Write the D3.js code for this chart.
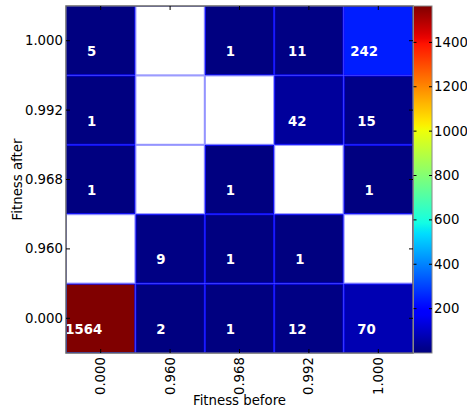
<!DOCTYPE html>
<html><head><meta charset="utf-8">
<script src="https://cdn.jsdelivr.net/npm/d3@7"></script>
<style>body{margin:0;background:#fff}svg{display:block;font-family:"DejaVu Sans",sans-serif}</style>
</head><body><svg id="c" width="467" height="409"></svg>
<script>
const xLabels = ["0.000","0.960","0.968","0.992","1.000"];
const yLabels = ["1.000","0.992","0.968","0.960","0.000"]; // top to bottom
const row_1000 = [5, null, 1, 11, 242];
const row_0992 = [1, null, null, 42, 15];
const row_0968 = [1, null, 1, null, 1];
const row_0960 = [null, 9, 1, 1, null];
const row_0000 = [1564, 2, 1, 12, 70];
const rows = [row_1000, row_0992, row_0968, row_0960, row_0000];
const cbTicks = [200,400,600,800,1000,1200,1400];
const vmin = 1, vmax = 1564;

// matplotlib jet
function interp(seg, t){
  for(let i=1;i<seg.length;i++){ if(t<=seg[i][0]){const a=seg[i-1],b=seg[i];return a[1]+(b[1]-a[1])*(t-a[0])/(b[0]-a[0]);} }
  return seg[seg.length-1][1];
}
const R=[[0,0],[0.35,0],[0.66,1],[0.89,1],[1,0.5]];
const G=[[0,0],[0.125,0],[0.375,1],[0.64,1],[0.91,0],[1,0]];
const B=[[0,0.5],[0.11,1],[0.34,1],[0.65,0],[1,0]];
function jet(t){t=Math.max(0,Math.min(1,t));t=Math.floor(t*255.999)/255;
  return d3.rgb(255*interp(R,t),255*interp(G,t),255*interp(B,t)).toString();}
const norm = d3.scaleLinear().domain([vmin,vmax]).clamp(true);

const svg = d3.select("#c");
const L=66, T=6, W=347, H=347;
const x = d3.scaleBand().domain(xLabels).range([L,L+W]);
const y = d3.scaleBand().domain(yLabels).range([T,T+H]);

const cells=[];
rows.forEach((r,i)=>r.forEach((v,j)=>cells.push({xl:xLabels[j],yl:yLabels[i],v})));
const g = svg.append("g");
g.selectAll("rect.c").data(cells).join("rect")
 .attr("x",d=>x(d.xl)+0.5).attr("y",d=>y(d.yl)+0.5)
 .attr("width",x.bandwidth()-1).attr("height",y.bandwidth()-1)
 .attr("fill",d=>d.v==null?"#fff":jet(norm(d.v)))
 .attr("stroke",d=>d.v==null?"rgba(0,0,255,0.45)":"#0000ff").attr("stroke-width",1);

const txt = g.selectAll("text.v").data(cells.filter(d=>d.v!=null)).join("text")
 .attr("fill","#fff").attr("font-weight","bold").attr("font-size","13.3px")
 .attr("y",d=>y(d.yl)+y.bandwidth()/2+15.5)
 .text(d=>d.v);
txt.each(function(d){const w=this.getComputedTextLength();
  const cx=x(d.xl)+x.bandwidth()/2-6.5-0.28*w; d3.select(this).attr("x",cx-w/2);});

// frame
svg.append("rect").attr("x",L).attr("y",T).attr("width",W).attr("height",H)
 .attr("fill","none").attr("stroke","#666").attr("stroke-width",1.5);

// ticks
const tl=4;
const ax = svg.append("g").attr("stroke","#000").attr("stroke-width",1);
xLabels.forEach(k=>{const cx=x(k)+x.bandwidth()/2;
  ax.append("line").attr("x1",cx).attr("x2",cx).attr("y1",T+H).attr("y2",T+H-tl);
  ax.append("line").attr("x1",cx).attr("x2",cx).attr("y1",T).attr("y2",T+tl);});
yLabels.forEach(k=>{const cy=y(k)+y.bandwidth()/2;
  ax.append("line").attr("y1",cy).attr("y2",cy).attr("x1",L).attr("x2",L+tl);
  ax.append("line").attr("y1",cy).attr("y2",cy).attr("x1",L+W).attr("x2",L+W-tl);});

const fs="13.3px";
svg.append("g").selectAll("text").data(xLabels).join("text")
 .attr("font-size",fs).attr("text-anchor","end").attr("dominant-baseline","central")
 .attr("transform",d=>`translate(${x(d)+x.bandwidth()/2},${T+H+4}) rotate(-90)`).text(d=>d);
svg.append("g").selectAll("text").data(yLabels).join("text")
 .attr("font-size",fs).attr("text-anchor","end").attr("dominant-baseline","central")
 .attr("x",L-3).attr("y",d=>y(d)+y.bandwidth()/2).text(d=>d);
svg.append("text").attr("font-size",fs).attr("text-anchor","middle")
 .attr("x",L+W/2).attr("y",405).text("Fitness before");
svg.append("text").attr("font-size",fs).attr("text-anchor","middle")
 .attr("transform",`translate(22,${T+H/2}) rotate(-90)`).text("Fitness after");

// colorbar
const CX=413.5, CW=18.5;
const cy = d3.scaleLinear().domain([0,vmax]).range([T+H,T]);
const defs = svg.append("defs");
const grad = defs.append("linearGradient").attr("id","jg").attr("x1",0).attr("y1",1).attr("x2",0).attr("y2",0);
for(let i=0;i<=64;i++){const t=i/64; grad.append("stop").attr("offset",t).attr("stop-color",jet(t));}
svg.append("rect").attr("x",CX).attr("y",T).attr("width",CW).attr("height",H).attr("fill","url(#jg)")
 .attr("stroke","#888").attr("stroke-width",1);
const cg = svg.append("g");
cbTicks.forEach(v=>{const yy=cy(v);
  cg.append("line").attr("x1",CX).attr("x2",CX+3).attr("y1",yy).attr("y2",yy).attr("stroke","#000");
  cg.append("line").attr("x1",CX+CW).attr("x2",CX+CW-3).attr("y1",yy).attr("y2",yy).attr("stroke","#000");
  cg.append("text").attr("font-size",fs).attr("x",CX+CW+2).attr("y",yy).attr("dominant-baseline","central").text(v);});
</script></body></html>
